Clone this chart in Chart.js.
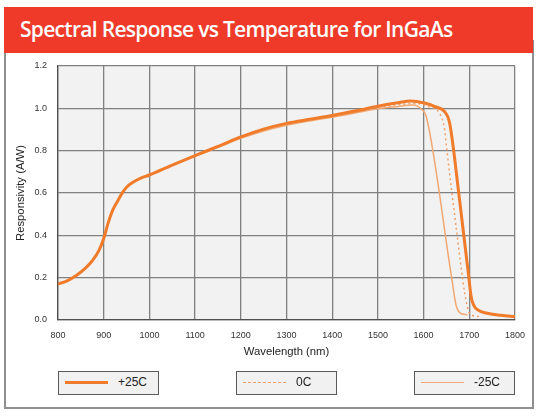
<!DOCTYPE html>
<html>
<head>
<meta charset="utf-8">
<script src="https://cdn.jsdelivr.net/npm/chart.js@4.4.1/dist/chart.umd.min.js"></script>
<style>
  html, body { margin: 0; padding: 0; background: #fff; }
  #wrap { position: relative; width: 540px; height: 416px; overflow: hidden; font-family: "Liberation Sans", Arial, sans-serif; }
  #frame { position: absolute; left: 4px; top: 40px; width: 526px; height: 365px; border: 2px solid #8f8f8f; background: #fff; }
  #title { position: absolute; left: 4px; top: 7px; width: 529px; height: 46px; background: #ef3a29; color: #fff;
           font-family: "Open Sans", sans-serif; font-weight: 600; font-size: 21px; letter-spacing: -0.7px; line-height: 44px;
           padding-left: 16px; box-sizing: border-box; white-space: nowrap; }
  #chart { position: absolute; left: 0; top: 0; }
  .leg { position: absolute; top: 371px; height: 24px; width: 101px; box-sizing: border-box; border: 1.5px solid #5a5a5a; background: #f1f1f1; }
  .leg .smp { position: absolute; left: 6px; width: 43px; }
  .leg .lab { position: absolute; left: 59px; top: 0; line-height: 21px; font-size: 12px; color: #222; }
</style>
</head>
<body>
<div id="wrap">
  <div id="frame"></div>
  <div id="title">Spectral Response vs Temperature for InGaAs</div>
  <canvas id="chart" width="540" height="416"></canvas>
</div>
<script>
const seriesNames = ['+25C', '0C', '-25C'];

// wavelength (nm) / responsivity (A/W)
const wlPlus25 = [800, 820, 840, 860, 875, 890, 900, 910, 920, 930, 940, 950, 965, 980, 1000, 1050, 1100, 1150, 1200, 1250, 1300, 1350, 1400, 1450, 1500, 1540, 1573, 1602, 1625, 1646, 1657, 1678, 1699, 1704, 1710, 1720, 1737, 1770, 1800];
const rPlus25  = [0.17, 0.185, 0.21, 0.245, 0.28, 0.33, 0.385, 0.46, 0.52, 0.56, 0.598, 0.627, 0.652, 0.669, 0.685, 0.732, 0.777, 0.82, 0.865, 0.902, 0.929, 0.948, 0.966, 0.987, 1.01, 1.025, 1.035, 1.025, 1.008, 0.984, 0.93, 0.58, 0.2, 0.11, 0.068, 0.046, 0.033, 0.022, 0.015];

const wlZero = [800, 820, 840, 860, 875, 890, 900, 910, 920, 930, 940, 950, 965, 980, 1000, 1050, 1100, 1150, 1200, 1250, 1300, 1350, 1400, 1450, 1500, 1540, 1584, 1610, 1635, 1646, 1650, 1672, 1690, 1701, 1723];
const rZero  = [0.17, 0.185, 0.21, 0.245, 0.28, 0.33, 0.385, 0.46, 0.52, 0.56, 0.598, 0.627, 0.652, 0.669, 0.685, 0.732, 0.777, 0.818, 0.862, 0.898, 0.925, 0.944, 0.962, 0.983, 1.005, 1.016, 1.023, 1.008, 0.976, 0.9, 0.82, 0.425, 0.127, 0.03, 0.016];

const wlMinus25 = [800, 820, 840, 860, 875, 890, 900, 910, 920, 930, 940, 950, 965, 980, 1000, 1050, 1100, 1150, 1200, 1250, 1300, 1350, 1400, 1450, 1500, 1540, 1577, 1596, 1606, 1661, 1671, 1679, 1696];
const rMinus25  = [0.17, 0.185, 0.21, 0.245, 0.28, 0.33, 0.385, 0.46, 0.52, 0.56, 0.598, 0.627, 0.652, 0.669, 0.685, 0.732, 0.775, 0.815, 0.858, 0.893, 0.92, 0.94, 0.958, 0.978, 0.998, 1.008, 1.016, 0.995, 0.96, 0.205, 0.07, 0.035, 0.024];

const xTickLabels = ['800', '900', '1000', '1100', '1200', '1300', '1400', '1500', '1600', '1700', '1800'];
const yTickLabels = ['0.0', '0.2', '0.4', '0.6', '0.8', '1.0', '1.2'];

const lineStyles = [
  { color: '#f07b2a', width: 3, dash: [] },
  { color: '#f2a066', width: 1.5, dash: [2, 3] },
  { color: '#f2a874', width: 1.5, dash: [] }
];

function toPoints(wl, r) {
  return wl.map((w, i) => ({ x: w, y: r[i] }));
}

const plotBg = {
  id: 'plotBg',
  beforeDraw(chart) {
    const { ctx, chartArea: a } = chart;
    ctx.save();
    ctx.fillStyle = '#f2f2f2';
    ctx.fillRect(a.left, a.top, a.width, a.height);
    ctx.restore();
  }
};

const tickFont = { family: '"Liberation Sans", Arial, sans-serif', size: 9 };
const titleFont = { family: '"Liberation Sans", Arial, sans-serif', size: 11.3 };

const allData = [toPoints(wlPlus25, rPlus25), toPoints(wlZero, rZero), toPoints(wlMinus25, rMinus25)];

const chart = new Chart(document.getElementById('chart').getContext('2d'), {
  type: 'line',
  data: {
    datasets: seriesNames.map((name, i) => ({
      label: name,
      data: allData[i],
      borderColor: lineStyles[i].color,
      borderWidth: lineStyles[i].width,
      borderDash: lineStyles[i].dash,
      fill: false,
      cubicInterpolationMode: 'monotone',
      pointRadius: 0
    }))
  },
  options: {
    responsive: false,
    animation: false,
    layout: { padding: { top: 66, right: 25, left: 0, bottom: 0 } },
    plugins: { legend: { display: false }, tooltip: { enabled: false } },
    scales: {
      x: {
        type: 'linear', min: 800, max: 1800,
        ticks: { stepSize: 100, padding: 10, color: '#333', font: tickFont, maxRotation: 0, autoSkip: false,
                 callback: (v, i) => xTickLabels[i] },
        grid: { color: '#808080', lineWidth: 1.3, drawTicks: false },
        border: { color: '#505050', width: 1.3 },
        title: { display: true, text: 'Wavelength (nm)', color: '#222', font: titleFont, padding: { top: 0, bottom: 57 } },
        afterFit: a => { a.height = 96; }
      },
      y: {
        min: 0, max: 1.2,
        ticks: { stepSize: 0.2, padding: 11, color: '#333', font: tickFont, callback: (v, i) => yTickLabels[i] },
        grid: { color: '#808080', lineWidth: 1.3, drawTicks: false },
        border: { color: '#505050', width: 1.3 },
        title: { display: true, text: 'Responsivity (A/W)', color: '#222', font: titleFont, padding: { top: 14, bottom: 0 } },
        afterFit: a => { a.width = 58; }
      }
    }
  },
  plugins: [plotBg]
});

// boxed legend under the plot
const area = chart.chartArea;
const boxW = 101;
const lefts = [area.left, (area.left + area.right) / 2 - boxW / 2, area.right - boxW];
seriesNames.forEach((name, i) => {
  const box = document.createElement('div');
  box.className = 'leg';
  box.style.left = lefts[i] + 'px';
  const smp = document.createElement('div');
  smp.className = 'smp';
  const st = lineStyles[i];
  smp.style.borderTop = st.width + 'px ' + (st.dash.length ? 'dashed ' : 'solid ') + st.color;
  smp.style.top = (10.5 - st.width / 2) + 'px';
  const lab = document.createElement('div');
  lab.className = 'lab';
  lab.textContent = name;
  box.appendChild(smp);
  box.appendChild(lab);
  document.getElementById('wrap').appendChild(box);
});
</script>
</body>
</html>
